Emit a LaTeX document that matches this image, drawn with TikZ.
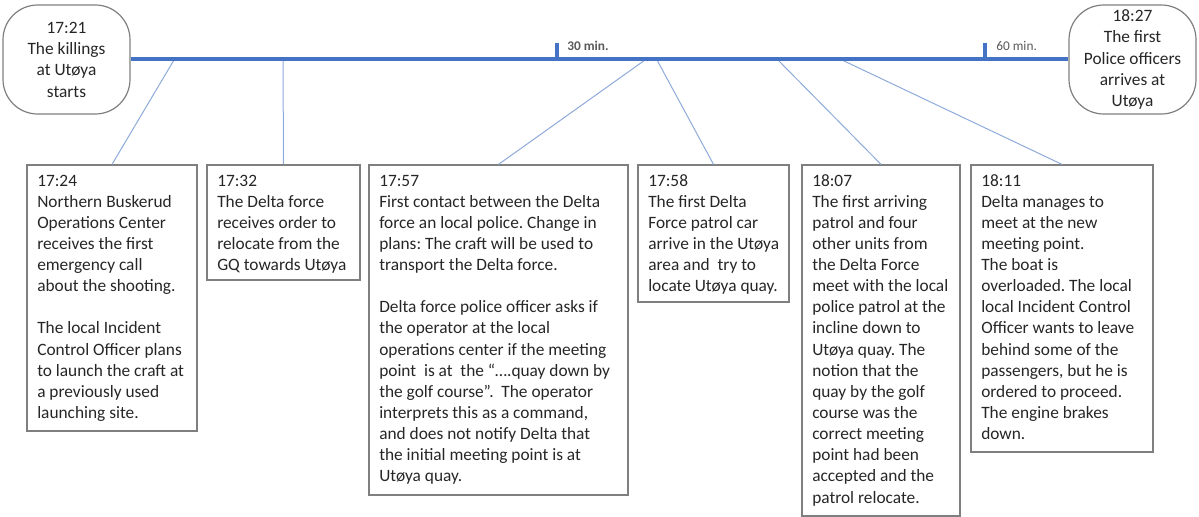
\documentclass[tikz,border=0pt]{standalone}
\usepackage{fontspec}
\setmainfont{Carlito}
\usetikzlibrary{fit}
\frenchspacing
\definecolor{tline}{HTML}{4472C4}
\definecolor{conn}{HTML}{8EAADB}
\definecolor{frameg}{HTML}{7F7F7F}
\definecolor{txtc}{HTML}{262626}
\definecolor{lblc}{HTML}{595959}
\tikzset{
  frame/.style={draw=frameg, line width=0.9pt, inner sep=0pt},
  term/.style={draw=frameg, line width=0.9pt, inner sep=0pt, rounded corners=26pt, align=center, text=txtc, font=\fontsize{13pt}{16pt}\selectfont, minimum width=95.25pt, minimum height=81.75pt},
  txt/.style={anchor=north west, inner sep=0pt, align=left, text=txtc, font=\fontsize{13pt}{15.85pt}\selectfont},
  connector/.style={draw=conn, line width=0.75pt},
  axis/.style={draw=tline, line width=3pt},
  tick/.style={draw=tline, line width=2.5pt},
  lbl/.style={anchor=west, inner sep=0pt, text=lblc, font=\fontsize{10pt}{12pt}\selectfont}
}
\begin{document}
\begin{tikzpicture}[x=0.75pt, y=-0.75pt]
\useasboundingbox (0,0) rectangle (1199,517);

% terminators
\node[term] (s) at (66.5,59.5) {17:21\\The killings\\at Utøya\\starts};
\node[term] (e) at (1132.5,59.5) {18:27\\The first\\Police officers\\arrives at\\Utøya};

% boxes
\node[frame, fit={(27,165) (197,431)}] (b1) {};
\node[frame, fit={(207,165) (360,280)}] (b2) {};
\node[frame, fit={(369,165) (628,495)}] (b3) {};
\node[frame, fit={(638,165) (789,302)}] (b4) {};
\node[frame, fit={(802,165) (960,516)}] (b5) {};
\node[frame, fit={(971,165) (1153,452)}] (b6) {};

% connector ends on the timeline
\coordinate (c1) at (174,60);
\coordinate (c2) at (283,60);
\coordinate (c3) at (645,60);
\coordinate (c4) at (657,60);
\coordinate (c5) at (778,60);
\coordinate (c6) at (842,60);

\draw[connector] (c1) -- (b1.north);
\draw[connector] (c2) -- (b2.north);
\draw[connector] (c3) -- (b3.north);
\draw[connector] (c4) -- (b4.north);
\draw[connector] (c5) -- (b5.north);
\draw[connector] (c6) -- (b6.north);

% timeline
\draw[axis] (s.east) -- (e.west);
\coordinate (t30a) at (557,61);
\coordinate (t30b) at (557,43);
\coordinate (t60a) at (985,61);
\coordinate (t60b) at (985,43);
\draw[tick] (t30a) -- (t30b);
\draw[tick] (t60a) -- (t60b);
\node[lbl, font=\bfseries\fontsize{10pt}{12pt}\selectfont] (l30) at (567,46) {30 min.};
\node[lbl] (l60) at (996,46) {60 min.};

% texts
\node[txt] (b1t) at (37,171) {\strut 17:24\\Northern Buskerud\\Operations Center\\receives the first\\emergency call\\about the shooting.\\[15.85pt]The local Incident\\Control Officer plans\\to launch the craft at\\a previously used\\launching site.};
\node[txt] (b2t) at (217,171) {\strut 17:32\\The Delta force\\receives order to\\relocate from the\\GQ towards Utøya};
\node[txt] (b3t) at (379,171) {\strut 17:57\\First contact between the Delta\\force an local police. Change in\\plans: The craft will be used to\\transport the Delta force.\\[15.85pt]Delta force police officer asks if\\the operator at the local\\operations center if the meeting\\point\ \ is at\ \ the “….quay down by\\the golf course”.\ \ The operator\\interprets this as a command,\\and does not notify Delta that\\the initial meeting point is at\\Utøya quay.};
\node[txt] (b4t) at (648,171) {\strut 17:58\\The first Delta\\Force patrol car\\arrive in the Utøya\\area and\ \ try to\\locate Utøya quay.};
\node[txt] (b5t) at (812,171) {\strut 18:07\\The first arriving\\patrol and four\\other units from\\the Delta Force\\meet with the local\\police patrol at the\\incline down to\\Utøya quay. The\\notion that the\\quay by the golf\\course was the\\correct meeting\\point had been\\accepted and the\\patrol relocate.};
\node[txt] (b6t) at (981,171) {\strut 18:11\\Delta manages to\\meet at the new\\meeting point.\\The boat is\\overloaded. The local\\local Incident Control\\Officer wants to leave\\behind some of the\\passengers, but he is\\ordered to proceed.\\The engine brakes\\down.};
\end{tikzpicture}
\end{document}
